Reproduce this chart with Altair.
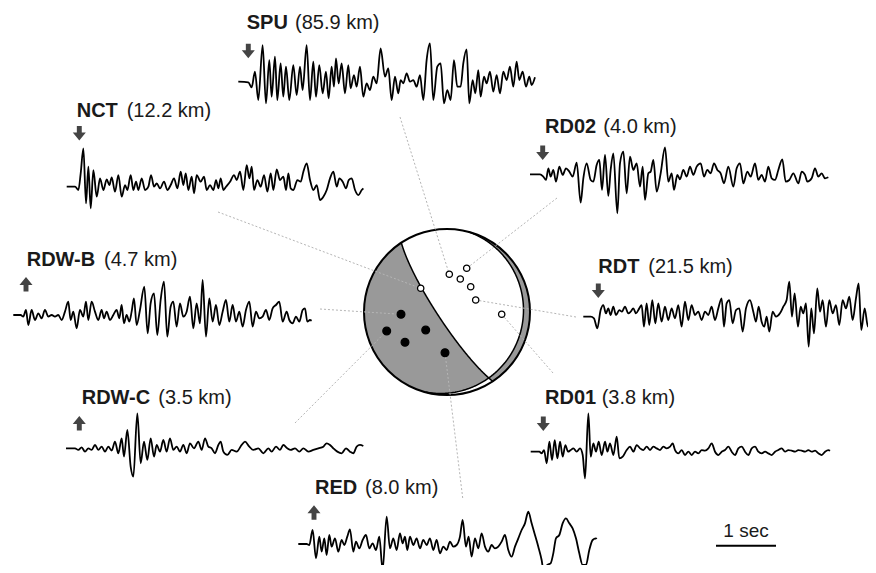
import math
import altair as alt
import pandas as pd

# ---------------- seismogram samples: sample index (180 sps) and amplitude (counts) ----------------
SPU_T = [0,30,40,50,60,73,83,93,100,110,117,127,135,143,153,165,175,185,193,205,215,225,233,243,253,263,271,280,287,293,301,310,320,330,337,347,355,365,375,385,395,405,415,427,440,450,460,470,480,487,495,505,515,525,535,545,555,565,575,585,597,607,617,627,637,647,657,667,675,685,693,703,711,720,727,737,745,755,765,775,785,795,805,815,825,835,843,853,863,873,880,890]
SPU_A = [0,-2,-17,30,-55,110,-65,65,-45,75,-55,55,-45,45,-55,50,-40,45,-25,110,-55,60,-45,50,-35,30,-50,45,-15,70,-5,55,-35,50,-20,20,-15,45,-45,-5,-25,15,-5,100,15,40,-55,15,-35,5,-5,25,0,5,-15,20,-55,65,115,-55,45,55,-65,-25,-55,65,-15,-15,55,97,-65,5,-35,35,-45,15,-5,30,-30,20,-35,30,5,45,-15,60,5,30,-15,15,-10,13]

NCT_T = [0,25,35,42,50,58,65,72,80,90,100,110,120,128,135,145,155,165,175,182,192,200,208,215,225,235,245,253,262,270,280,292,302,312,322,332,342,350,357,365,375,382,390,402,412,420,430,440,448,455,462,470,478,490,502,510,520,530,540,548,555,562,572,582,592,602,612,620,630,640,650,658,665,672,680,692,702,710,720,730,740,750,760,770,780,790,800,810,818,828,838,846,855,865,875,885,890]
NCT_A = [0,0,-10,40,115,-50,60,-65,50,-30,25,-10,22,5,28,-15,35,-30,5,-10,35,-10,15,-10,25,-10,0,35,0,10,-5,15,-10,5,25,-5,45,5,40,-10,30,-20,35,15,30,-10,5,-10,20,-5,25,-10,0,15,35,20,45,-10,65,25,60,-10,20,0,35,-15,40,-10,52,20,30,-10,40,-5,-10,20,15,45,70,20,-10,5,-40,-30,-10,25,45,0,25,15,-5,20,25,-10,-25,-10,-5]

RD02_T = [0,30,40,48,55,62,70,78,88,98,108,118,128,140,152,160,170,182,190,200,208,216,225,235,242,250,262,270,280,290,300,310,320,330,338,345,355,362,370,380,392,405,415,425,432,442,450,460,470,480,490,500,512,522,532,542,552,562,572,582,595,610,620,630,640,652,662,675,685,695,705,715,725,735,745,757,767,778,790,805,815,825,832,845,855,865,875,885,895]
RD02_A = [0,0,-7,-17,18,-7,13,-22,23,-2,18,8,-7,35,-85,-12,33,-17,-22,28,43,-47,58,-65,13,63,-117,33,68,-57,53,13,33,-37,23,-77,3,8,43,-52,3,81,-22,3,-47,-2,-15,13,-7,23,-2,23,33,-7,13,3,33,13,3,-27,23,-37,18,33,-27,8,-7,33,-17,-2,-22,23,-12,-17,13,45,-22,-17,3,-27,8,-2,-22,-12,18,-7,3,-12,-9]

RDWB_T = [0,22,30,38,45,55,65,75,85,95,105,115,125,135,145,155,165,172,180,190,200,210,218,225,235,245,255,265,272,280,290,300,310,318,325,332,340,348,355,362,370,380,393,403,412,422,432,442,452,462,472,480,490,500,510,520,530,540,550,560,568,578,588,598,608,618,628,638,648,658,668,678,688,698,708,718,728,738,748,758,768,778,788,798,808,820,828,838,848,858,868,875,882,890,895]
RDWB_A = [0,0,-5,15,-30,15,-15,5,-10,15,-5,0,-5,0,-15,10,40,-15,10,-40,15,-5,40,-15,40,10,-15,15,-10,10,-15,0,15,-10,30,-25,0,-20,10,50,-30,15,85,-55,35,65,-60,45,100,-65,25,40,-35,35,-5,10,55,-40,35,-25,105,-65,50,-20,30,-30,10,45,-20,30,-20,10,-35,15,40,-35,10,-10,-5,15,-15,20,30,40,-20,10,-15,-25,-5,-20,15,20,-20,-15,-17]

RDT_T = [0,22,32,42,52,60,68,75,82,90,98,108,116,125,135,142,150,158,168,175,182,190,198,207,216,225,235,245,255,265,275,285,295,305,315,325,335,345,355,365,375,385,395,405,415,422,430,438,448,458,468,478,488,500,510,518,526,535,543,550,558,568,578,590,600,610,618,626,634,644,652,660,668,676,684,692,702,710,718,728,738,748,758,768,778,788,798,808,818,826,834,844,854,864,872,878]
RDT_A = [0,0,-5,-35,20,35,10,25,5,30,5,20,15,30,10,15,25,10,25,35,-30,40,-25,50,-20,40,-15,30,-10,25,-5,35,-30,45,-10,35,5,15,-10,15,5,30,-10,25,55,-30,40,50,-20,20,25,-45,25,50,15,-15,30,-15,-30,0,-45,15,0,10,30,50,105,0,70,-30,30,10,40,-90,25,-50,85,15,50,-30,50,10,35,-25,50,25,60,-10,55,100,-40,25,-30,-10,110,50]

RDWC_T = [0,27,37,47,57,67,77,87,97,107,117,127,137,147,157,167,174,184,194,202,214,224,234,244,254,264,272,282,292,302,312,322,332,342,352,362,372,384,397,407,417,427,437,447,457,464,472,484,497,512,527,537,550,562,577,592,607,617,630,642,652,664,674,687,700,712,727,742,757,772,782,792,802,814,827,840,852,862,872,882,892]
RDWC_A = [0,0,-5,3,-10,0,-5,10,-5,5,-10,5,-7,20,-15,30,-25,55,-55,-85,105,-45,20,-35,30,-25,10,-10,25,-10,30,-5,5,-10,10,-15,15,0,20,-5,30,5,0,-15,10,20,-10,-20,-5,-10,10,20,5,-5,0,-15,0,-10,5,-5,10,0,-5,0,-10,0,-10,-5,0,5,15,10,0,-10,-15,0,-10,-15,5,10,7]

RD01_T = [0,26,33,40,48,56,64,72,80,88,96,104,112,120,128,138,148,156,163,173,180,188,196,204,213,223,230,238,248,258,266,276,288,298,308,318,328,338,348,358,368,378,388,398,408,418,426,433,443,453,463,473,483,493,503,513,523,533,543,553,563,573,583,593,603,613,623,633,643,653,663,673,683,693,703,713,723,733,743,753,763,773,783,793,803,813,823,833,843,853,863,873,883,893,898]
RD01_A = [0,0,-5,5,-35,30,-25,35,-20,30,-15,20,0,5,10,0,10,-10,-80,115,-15,25,0,30,-10,30,0,25,-10,45,-20,-15,5,15,0,20,10,5,15,5,15,10,5,15,10,15,25,5,-5,5,-10,0,-10,0,-5,5,3,10,25,0,-10,0,5,15,0,-10,10,15,0,-10,10,15,0,-5,0,-5,-10,0,5,10,0,5,3,0,5,3,0,5,0,3,-5,-10,0,5,3]

RED_T = [0,25,33,43,53,63,70,78,85,93,100,110,120,130,138,147,155,165,173,183,193,203,213,223,233,243,253,265,275,285,295,305,313,320,327,335,345,355,365,375,385,395,405,415,425,435,445,455,465,475,485,493,503,511,520,530,540,550,560,570,580,590,600,610,620,630,640,650,660,670,680,690,700,710,720,730,737,747,757,765,773,783,793,803,813,823,833,843,853,863,873,883,893,895]
RED_A = [0,0,-3,42,-43,22,-23,17,-33,27,-8,17,-23,12,-3,22,44,-23,7,-13,12,27,-13,2,-18,22,-78,82,-13,17,-18,32,2,22,-18,22,-3,17,-13,12,-3,17,-18,12,-28,-8,-18,7,-8,-3,22,72,-8,22,-38,17,-13,32,-8,-23,-3,-13,-8,7,27,-18,-38,-8,17,42,62,97,62,27,-8,-48,-88,-63,-58,-28,17,27,62,77,62,47,17,-28,-63,-63,-18,12,17,15]

STATIONS = ["SPU", "NCT", "RD02", "RDW-B", "RDT", "RDW-C", "RD01", "RED"]
DISTANCES = ["(85.9 km)", "(12.2 km)", "(4.0 km)", "(4.7 km)", "(21.5 km)", "(3.5 km)", "(3.8 km)", "(8.0 km)"]
FIRST_MOTION = ["down", "down", "down", "up", "down", "up", "down", "up"]
SAMPLES = {"SPU": (SPU_T, SPU_A), "NCT": (NCT_T, NCT_A), "RD02": (RD02_T, RD02_A),
           "RDW-B": (RDWB_T, RDWB_A), "RDT": (RDT_T, RDT_A), "RDW-C": (RDWC_T, RDWC_A),
           "RD01": (RD01_T, RD01_A), "RED": (RED_T, RED_A)}

# first-motion polarities plotted on the focal sphere
DOT_X = [420.7, 449.3, 466.7, 460.3, 470.7, 475.7, 501.7, 401.0, 386.7, 425.7, 405.0, 445.0]
DOT_Y = [288.3, 274.3, 268.3, 279.0, 286.7, 300.0, 314.3, 314.3, 331.0, 330.0, 342.3, 352.7]
DOT_KIND = ["dilatation"] * 7 + ["compression"] * 5
STATION_DOT = {"NCT": 0, "SPU": 1, "RD02": 2, "RDT": 5, "RD01": 6, "RDW-B": 7, "RDW-C": 8, "RED": 11}

# focal mechanism nodal planes (strike, dip in degrees)
STRIKE1, DIP1 = 146.6, 81.0
STRIKE2, DIP2 = 15.0, 9.0

SCALE_BAR_SEC = 1

# ---------------- layout (page pixels) ----------------
SPS = 180
PX_PER_SEC = 60
COUNTS_PER_PX = 3.0
TRACE_ORIGIN = {"SPU": (238.3, 81.7), "NCT": (66.7, 186.7), "RD02": (530.0, 174.3),
                "RDW-B": (13.3, 315.0), "RDT": (583.3, 316.7), "RDW-C": (66.0, 448.3),
                "RD01": (530.7, 451.7), "RED": (298.3, 544.0)}
LABEL_POS = {"SPU": (246.7, 295.0, 29.3), "NCT": (76.7, 126.7, 117.3), "RD02": (545.0, 603.3, 132.5),
             "RDW-B": (26.7, 104.0, 266.0), "RDT": (598.3, 648.3, 273.3), "RDW-C": (81.7, 158.3, 404.0),
             "RD01": (545.0, 601.7, 404.0), "RED": (315.0, 365.0, 494.0)}
ARROW_POS = {"SPU": (248.3, 51.0), "NCT": (79.3, 133.3), "RD02": (542.7, 152.8), "RDW-B": (26.0, 284.2),
             "RDT": (598.3, 290.8), "RDW-C": (79.3, 423.3), "RD01": (543.3, 423.8), "RED": (314.0, 512.5)}
LINK_START = {"SPU": (400, 117), "NCT": (218, 212), "RD02": (557, 198), "RDW-B": (320, 309),
              "RDT": (576, 317), "RDW-C": (295, 423), "RD01": (553, 373), "RED": (462.7, 498)}
BALL_CENTER = (447.0, 312.0)
BALL_RADIUS = 83.0
SCALE_BAR = (716.0, 545.7)

ARROW_DOWN = "M-0.34,-1 L0.34,-1 L0.34,-0.1 L0.9,-0.1 L0,1 L-0.9,-0.1 L-0.34,-0.1 Z"
ARROW_UP = "M-0.34,1 L0.34,1 L0.34,0.1 L0.9,0.1 L0,-1 L-0.9,0.1 L-0.34,0.1 Z"


# ---------------- focal sphere geometry (lower hemisphere, equal area) ----------------
def cross(a, b):
    return (a[1] * b[2] - a[2] * b[1], a[2] * b[0] - a[0] * b[2], a[0] * b[1] - a[1] * b[0])


def dot(a, b):
    return sum(p * q for p, q in zip(a, b))


def plane_points(strike, dip, n=241):
    s, d = math.radians(strike), math.radians(dip)
    sv = (math.cos(s), math.sin(s), 0.0)
    dv = (math.cos(d) * math.cos(s + math.pi / 2), math.cos(d) * math.sin(s + math.pi / 2), math.sin(d))
    pts = []
    for i in range(n):
        lam = math.pi * i / (n - 1)
        pts.append(tuple(math.cos(lam) * sv[k] + math.sin(lam) * dv[k] for k in range(3)))
    return pts, cross(sv, dv)


def project(v):
    n, e, dn = v
    if dn < 0:
        n, e, dn = -n, -e, -dn
    p = math.asin(min(1.0, dn))
    az = math.atan2(e, n)
    r = math.sqrt(2) * math.sin((math.pi / 2 - p) / 2)
    return (r * math.sin(az), -r * math.cos(az))


def azim(v):
    return math.atan2(v[1], v[0])


def arc(a0, a1, n=160):
    return [(math.sin(a0 + (a1 - a0) * i / n), -math.cos(a0 + (a1 - a0) * i / n)) for i in range(n + 1)]


def svg_path(pts, close):
    s = "M" + " L".join(f"{x:.4f},{y:.4f}" for x, y in pts)
    return s + (" Z" if close else "")


P1, N1 = plane_points(STRIKE1, DIP1)
P2, N2 = plane_points(STRIKE2, DIP2)
REF = (0.0, -math.cos(math.pi / 4), math.sin(math.pi / 4))
S1 = 1 if dot(N1, REF) > 0 else -1
S2 = 1 if dot(N2, REF) > 0 else -1
XV = cross(N1, N2)
nx = math.sqrt(dot(XV, XV))
XV = tuple(c / nx for c in XV)
if XV[2] < 0:
    XV = tuple(-c for c in XV)

p1_in = [v for v in P1 if S2 * dot(N2, v) > 0]
p1_out = [v for v in P1 if S2 * dot(N2, v) <= 0]
p2_in = [v for v in P2 if S1 * dot(N1, v) > 0]
p2_out = [v for v in P2 if S1 * dot(N1, v) <= 0]

a0, a1 = azim(p2_in[-1]), azim(p1_in[-1])
while a1 < a0:
    a1 += 2 * math.pi
poly_a = [project(v) for v in reversed(p1_in)] + [project(XV)] + [project(v) for v in p2_in] + arc(a0, a1)

b0, b1 = azim(p1_out[0]), azim(p2_out[0])
while b1 > b0:
    b1 -= 2 * math.pi
poly_b = [project(v) for v in p2_out] + [project(XV)] + [project(v) for v in reversed(p1_out)] + arc(b0, b1)

GRAY_SHAPES = [svg_path(poly_a, True), svg_path(poly_b, True)]
PLANE_SHAPES = [svg_path([project(v) for v in P1], False), svg_path([project(v) for v in P2], False)]
BALL_SIZE = (2 * BALL_RADIUS) ** 2

# ---------------- tables ----------------
rows = []
for st in STATIONS:
    t, a = SAMPLES[st]
    x0, y0 = TRACE_ORIGIN[st]
    for ti, ai in zip(t, a):
        rows.append({"station": st, "i": ti, "x": x0 + (ti - t[0]) / SPS * PX_PER_SEC, "y": y0 - ai / COUNTS_PER_PX})
df_tr = pd.DataFrame(rows)

df_lab = pd.DataFrame({
    "station": STATIONS, "dist": DISTANCES,
    "name_x": [LABEL_POS[s][0] for s in STATIONS], "dist_x": [LABEL_POS[s][1] for s in STATIONS],
    "y": [LABEL_POS[s][2] for s in STATIONS],
    "ax": [ARROW_POS[s][0] for s in STATIONS], "ay": [ARROW_POS[s][1] for s in STATIONS],
    "motion": FIRST_MOTION,
})

df_link = pd.DataFrame({
    "x": [LINK_START[s][0] for s in STATIONS], "y": [LINK_START[s][1] for s in STATIONS],
    "x2": [DOT_X[STATION_DOT[s]] for s in STATIONS], "y2": [DOT_Y[STATION_DOT[s]] for s in STATIONS],
})
df_dots = pd.DataFrame({"x": DOT_X, "y": DOT_Y, "kind": DOT_KIND})
df_ball = pd.DataFrame({"x": [BALL_CENTER[0]], "y": [BALL_CENTER[1]]})
df_scale = pd.DataFrame({"x": [SCALE_BAR[0]], "x2": [SCALE_BAR[0] + SCALE_BAR_SEC * PX_PER_SEC],
                         "y": [SCALE_BAR[1]], "tx": [SCALE_BAR[0] + SCALE_BAR_SEC * PX_PER_SEC / 2],
                         "ty": [SCALE_BAR[1] - 9], "label": [f"{SCALE_BAR_SEC} sec"]})

xs = alt.Scale(domain=[8, 868], nice=False, zero=False)
ys = alt.Scale(domain=[8, 565], nice=False, zero=False, reverse=True)


def X(f):
    return alt.X(f, type="quantitative", scale=xs, axis=None)


def Y(f):
    return alt.Y(f, type="quantitative", scale=ys, axis=None)


FONT = "Liberation Sans"

traces = alt.Chart(df_tr).mark_line(interpolate="monotone", color="black", strokeWidth=1.8, clip=True).encode(
    x=X("x"), y=Y("y"), detail="station:N", order="i:Q")

names = alt.Chart(df_lab).mark_text(align="left", baseline="alphabetic", font=FONT, fontSize=20,
                                    fontWeight="bold", color="#1a1a1a").encode(x=X("name_x"), y=Y("y"), text="station:N")
dists = alt.Chart(df_lab).mark_text(align="left", baseline="alphabetic", font=FONT, fontSize=20,
                                    color="#1a1a1a").encode(x=X("dist_x"), y=Y("y"), text="dist:N")
arrows = alt.Chart(df_lab).mark_point(filled=True, opacity=1, size=210, color="#444444").encode(
    x=X("ax"), y=Y("ay"),
    shape=alt.Shape("motion:N", scale=alt.Scale(domain=["up", "down"], range=[ARROW_UP, ARROW_DOWN]), legend=None))

ball_bg = alt.Chart(df_ball).mark_point(shape="circle", filled=True, fill="white", opacity=1,
                                        size=BALL_SIZE, strokeWidth=0).encode(x=X("x"), y=Y("y"))
gray_layers = [alt.Chart(df_ball).mark_point(shape=g, filled=True, fill="#999999", opacity=1,
                                             size=BALL_SIZE, strokeWidth=0).encode(x=X("x"), y=Y("y"))
               for g in GRAY_SHAPES]
plane_layers = [alt.Chart(df_ball).mark_point(shape=p, filled=False, stroke="black", opacity=1,
                                              size=BALL_SIZE, strokeWidth=1.5).encode(x=X("x"), y=Y("y"))
                for p in PLANE_SHAPES]
ball_edge = alt.Chart(df_ball).mark_point(shape="circle", filled=False, stroke="black", opacity=1,
                                          size=BALL_SIZE, strokeWidth=2).encode(x=X("x"), y=Y("y"))

links = alt.Chart(df_link).mark_rule(color="#b5b5b5", strokeWidth=1, strokeDash=[2, 2]).encode(
    x=X("x"), y=Y("y"), x2=alt.X2("x2"), y2=alt.Y2("y2"))

dots = alt.Chart(df_dots).mark_point(shape="circle", filled=True, opacity=1, stroke="black", strokeWidth=1.3).encode(
    x=X("x"), y=Y("y"),
    fill=alt.Fill("kind:N", scale=alt.Scale(domain=["compression", "dilatation"], range=["black", "white"]), legend=None),
    size=alt.Size("kind:N", scale=alt.Scale(domain=["compression", "dilatation"], range=[60, 40]), legend=None))

scale_rule = alt.Chart(df_scale).mark_rule(color="black", strokeWidth=2).encode(x=X("x"), x2=alt.X2("x2"), y=Y("y"))
scale_text = alt.Chart(df_scale).mark_text(align="center", baseline="alphabetic", font=FONT, fontSize=19,
                                           color="#1a1a1a").encode(x=X("tx"), y=Y("ty"), text="label:N")

chart = alt.layer(
    ball_bg, *gray_layers, *plane_layers, ball_edge, links, dots,
    traces, arrows, names, dists, scale_rule, scale_text
).properties(
    width=860, height=557, padding=0, background="white",
    autosize=alt.AutoSizeParams(type="none")
).configure_view(strokeWidth=0)

chart.save("out.html", embed_options={"renderer": "svg", "actions": False})
